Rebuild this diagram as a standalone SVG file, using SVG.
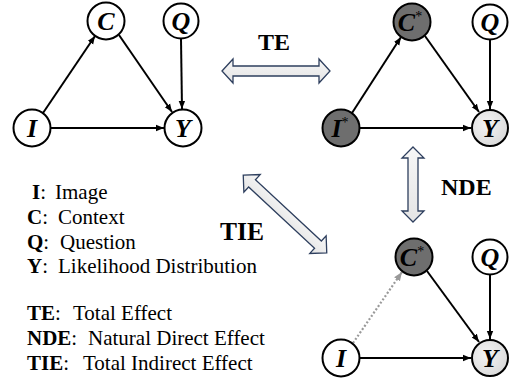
<svg xmlns="http://www.w3.org/2000/svg" width="510" height="383" viewBox="0 0 510 383">
<style>
.node{stroke:#000;stroke-width:2;fill:#fff}
.dark{fill:#6e6e6e}
.light{fill:url(#lg)}
text{font-family:'Liberation Serif','Times New Roman',serif}
.nl{font-weight:bold;font-style:italic;font-size:26px;text-anchor:middle;fill:#000}
.sup{font-size:14px;font-style:normal;font-weight:normal}
.edge{stroke:#000;stroke-width:2;fill:none;marker-end:url(#ah)}
.dot{stroke:#999;stroke-width:2.2;fill:none;stroke-dasharray:2 2;marker-end:url(#ahg)}
.big{fill:url(#ag);stroke:#2e3f5e;stroke-width:1.3}
.lab{font-weight:bold;font-size:24px;fill:#000}
.leg{font-size:21px;fill:#000}
.b{font-weight:bold}
</style>
<defs>
<marker id="ah" viewBox="0 0 10 10" refX="10" refY="5" markerWidth="4" markerHeight="4" orient="auto" markerUnits="strokeWidth"><path d="M0,1 L10,5 L0,9 z" fill="#000"/></marker>
<marker id="ahg" viewBox="0 0 10 10" refX="10" refY="5" markerWidth="4" markerHeight="4" orient="auto" markerUnits="strokeWidth"><path d="M0,1 L10,5 L0,9 z" fill="#999"/></marker>
<radialGradient id="lg" cx="0.4" cy="0.4" r="0.7"><stop offset="0" stop-color="#f4f4f4"/><stop offset="1" stop-color="#d8d8d8"/></radialGradient>
<linearGradient id="ag" x1="0" y1="0" x2="0" y2="1"><stop offset="0" stop-color="#f7f7f7"/><stop offset="1" stop-color="#e4e4e4"/></linearGradient>
</defs>

<g id="connectors">
<line class="edge" x1="43" y1="113" x2="95" y2="36"/>
<line class="edge" x1="119" y1="35" x2="172" y2="112"/>
<line class="edge" x1="181" y1="39" x2="182" y2="109"/>
<line class="edge" x1="51" y1="128" x2="164" y2="128"/>
<line class="edge" x1="352" y1="113" x2="401" y2="37"/>
<line class="edge" x1="425" y1="36" x2="479" y2="112"/>
<line class="edge" x1="490" y1="40" x2="490" y2="109"/>
<line class="edge" x1="360" y1="128" x2="471" y2="128"/>
<line class="dot" x1="353" y1="343" x2="402" y2="272"/>
<line class="edge" x1="427" y1="271" x2="479" y2="342"/>
<line class="edge" x1="490" y1="275" x2="490" y2="339"/>
<line class="edge" x1="360" y1="358" x2="471" y2="358"/>
<polygon class="big" points="222,71 233,59 233,66 319,66 319,59 330,71 319,83 319,76 233,76 233,83"/>
<polygon class="big" points="413,147 424,158 418,158 418,211 424,211 413,222 402,211 408,211 408,158 402,158"/>
<polygon class="big" transform="translate(285,214) rotate(42.9)" points="-57,0 -45,-12 -45,-5 45,-5 45,-12 57,0 45,12 45,5 -45,5 -45,12"/>
</g>

<g id="tl-C"><circle class="node" cx="106" cy="21" r="18.5"/><text class="nl" x="106" y="30">C</text></g>
<g id="tl-Q"><circle class="node" cx="181" cy="21" r="17.5"/><text class="nl" x="181" y="30">Q</text></g>
<g id="tl-I"><circle class="node" cx="32" cy="128" r="18.5"/><text class="nl" x="32" y="137">I</text></g>
<g id="tl-Y"><circle class="node" cx="183" cy="128" r="18.5"/><text class="nl" x="183" y="137">Y</text></g>

<g id="tr-C"><circle class="node dark" cx="412" cy="22" r="18.5"/><text class="nl" x="410" y="31">C<tspan class="sup" dy="-10">*</tspan></text></g>
<g id="tr-Q"><circle class="node" cx="490" cy="22" r="17.5"/><text class="nl" x="490" y="31">Q</text></g>
<g id="tr-I"><circle class="node dark" cx="341" cy="128" r="18.5"/><text class="nl" x="340" y="137">I<tspan class="sup" dy="-10">*</tspan></text></g>
<g id="tr-Y"><circle class="node light" cx="490" cy="128" r="18"/><text class="nl" x="490" y="137">Y</text></g>

<g id="br-C"><circle class="node dark" cx="414" cy="257" r="18.5"/><text class="nl" x="412" y="266">C<tspan class="sup" dy="-10">*</tspan></text></g>
<g id="br-Q"><circle class="node" cx="490" cy="257" r="17.5"/><text class="nl" x="490" y="266">Q</text></g>
<g id="br-I"><circle class="node" cx="341" cy="358" r="18.5"/><text class="nl" x="341" y="367">I</text></g>
<g id="br-Y"><circle class="node light" cx="490" cy="358" r="18"/><text class="nl" x="490" y="367">Y</text></g>

<g id="labels">
<text class="lab" x="258" y="50">TE</text>
<text class="lab" x="441" y="195">NDE</text>
<text class="lab" x="220" y="240" style="font-size:25.5px">TIE</text>
</g>

<g id="legend">
<text class="leg" x="32" y="199"><tspan class="b">I</tspan>:<tspan x="55">Image</tspan></text>
<text class="leg" x="27" y="224"><tspan class="b">C</tspan>:<tspan x="58">Context</tspan></text>
<text class="leg" x="27" y="249"><tspan class="b">Q</tspan>:<tspan x="60">Question</tspan></text>
<text class="leg" x="27" y="273"><tspan class="b">Y</tspan>:<tspan x="58">Likelihood Distribution</tspan></text>
<text class="leg" x="27" y="320"><tspan class="b">TE</tspan>:<tspan x="73">Total Effect</tspan></text>
<text class="leg" x="27" y="345"><tspan class="b">NDE</tspan>:<tspan x="88">Natural Direct Effect</tspan></text>
<text class="leg" x="27" y="370"><tspan class="b">TIE</tspan>:<tspan x="83">Total Indirect Effect</tspan></text>
</g>
</svg>
